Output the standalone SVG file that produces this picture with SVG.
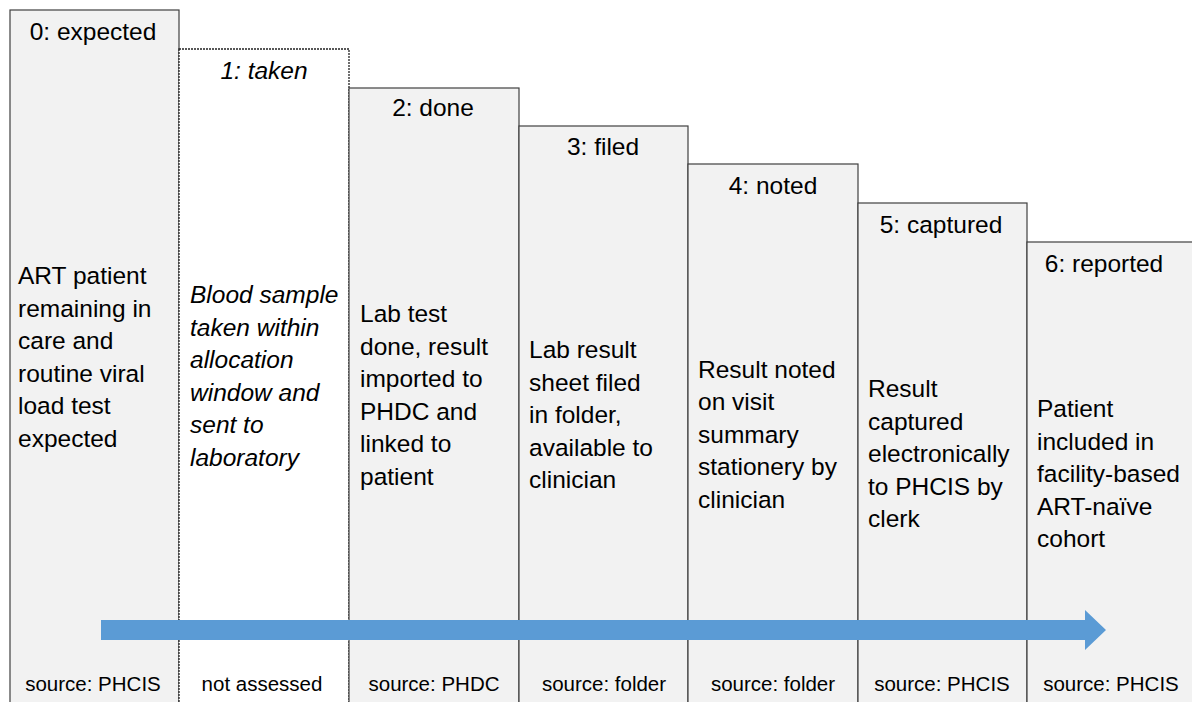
<svg xmlns="http://www.w3.org/2000/svg" width="1192" height="702" viewBox="0 0 1192 702">
<style>
.box{fill:#f2f2f2;stroke:#404040;stroke-width:1.2}
.dot{fill:#ffffff;stroke:#222;stroke-width:1.3;stroke-dasharray:2 1}
text{font-family:"Liberation Sans",Arial,sans-serif;fill:#000}
.t{font-size:24.5px;text-anchor:middle}
.b{font-size:24.5px}
.i{font-style:italic}
.s{font-size:20.5px;text-anchor:middle}
</style>
<rect width="1192" height="702" fill="#ffffff"/>
<g id="stage0">
<rect class="box" x="10" y="10" width="169" height="710"/>
<text class="t" x="93" y="40">0: expected</text>
<text class="b" x="18" y="284">ART patient</text>
<text class="b" x="18" y="316.5">remaining in</text>
<text class="b" x="18" y="349">care and</text>
<text class="b" x="18" y="381.5">routine viral</text>
<text class="b" x="18" y="414">load test</text>
<text class="b" x="18" y="446.5">expected</text>
<text class="s" x="93" y="691">source: PHCIS</text>
</g>
<g id="stage1">
<rect class="dot" x="179" y="49" width="170" height="710"/>
<text class="t i" x="264" y="79">1: taken</text>
<text class="b i" x="190" y="303">Blood sample</text>
<text class="b i" x="190" y="335.5">taken within</text>
<text class="b i" x="190" y="368">allocation</text>
<text class="b i" x="190" y="400.5">window and</text>
<text class="b i" x="190" y="433">sent to</text>
<text class="b i" x="190" y="465.5">laboratory</text>
<text class="s" x="262" y="691">not assessed</text>
</g>
<g id="stage2">
<rect class="box" x="349" y="88" width="170" height="710"/>
<text class="t" x="433" y="116">2: done</text>
<text class="b" x="360" y="322">Lab test</text>
<text class="b" x="360" y="354.5">done, result</text>
<text class="b" x="360" y="387">imported to</text>
<text class="b" x="360" y="419.5">PHDC and</text>
<text class="b" x="360" y="452">linked to</text>
<text class="b" x="360" y="484.5">patient</text>
<text class="s" x="434" y="691">source: PHDC</text>
</g>
<g id="stage3">
<rect class="box" x="519" y="126" width="169" height="710"/>
<text class="t" x="603" y="155">3: filed</text>
<text class="b" x="529" y="358">Lab result</text>
<text class="b" x="529" y="390.5">sheet filed</text>
<text class="b" x="529" y="423">in folder,</text>
<text class="b" x="529" y="455.5">available to</text>
<text class="b" x="529" y="488">clinician</text>
<text class="s" x="604" y="691">source: folder</text>
</g>
<g id="stage4">
<rect class="box" x="688" y="164" width="170" height="710"/>
<text class="t" x="773" y="194">4: noted</text>
<text class="b" x="698" y="377.5">Result noted</text>
<text class="b" x="698" y="410">on visit</text>
<text class="b" x="698" y="442.5">summary</text>
<text class="b" x="698" y="475">stationery by</text>
<text class="b" x="698" y="507.5">clinician</text>
<text class="s" x="773" y="691">source: folder</text>
</g>
<g id="stage5">
<rect class="box" x="858" y="203" width="169" height="710"/>
<text class="t" x="941" y="233">5: captured</text>
<text class="b" x="868" y="397">Result</text>
<text class="b" x="868" y="429.5">captured</text>
<text class="b" x="868" y="462">electronically</text>
<text class="b" x="868" y="494.5">to PHCIS by</text>
<text class="b" x="868" y="527">clerk</text>
<text class="s" x="942" y="691">source: PHCIS</text>
</g>
<g id="stage6">
<rect class="box" x="1027" y="242" width="180" height="710"/>
<text class="t" x="1104" y="272">6: reported</text>
<text class="b" x="1037" y="417">Patient</text>
<text class="b" x="1037" y="449.5">included in</text>
<text class="b" x="1037" y="482">facility-based</text>
<text class="b" x="1037" y="514.5">ART-naïve</text>
<text class="b" x="1037" y="547">cohort</text>
<text class="s" x="1111" y="691">source: PHCIS</text>
</g>
<g id="connectors">
<polygon points="101,620 1085,620 1085,610 1106,630 1085,650 1085,640 101,640" fill="#5b9bd5"/>
</g>
</svg>
